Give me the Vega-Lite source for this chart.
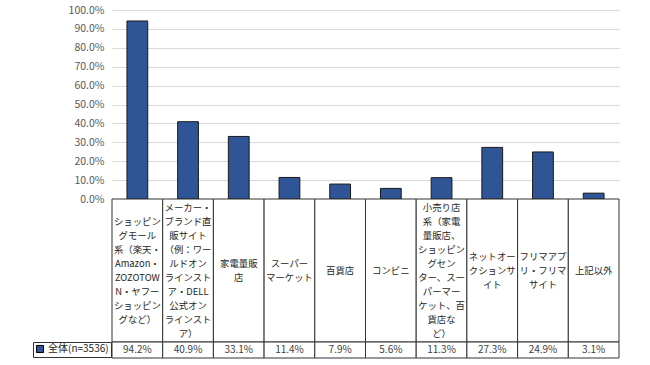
{
  "$schema": "https://vega.github.io/schema/vega-lite/v6.json",
  "padding": {"left": 32, "top": 5, "right": 5, "bottom": 5},
  "bounds": "flush",
  "spacing": 0,
  "resolve": {"legend": {"fill": "independent"}},
  "config": {
    "view": {"stroke": null},
    "font": "Noto Sans CJK JP",
    "axis": {"labelFont": "Noto Sans CJK JP"},
    "legend": {"labelFont": "Noto Sans CJK JP"}
  },
  "data": {
    "values": [
      {"label": "ショッピン\nグモール\n系（楽天・\nAmazon・\nZOZOTOW\nN・ヤフー\nショッピン\nグなど）", "value": 0.942, "series": "全体(n=3536)"},
      {"label": "メーカー・\nブランド直\n販サイト\n（例：ワー\nルドオン\nラインスト\nア・DELL\n公式オン\nラインスト\nア）", "value": 0.409, "series": "全体(n=3536)"},
      {"label": "家電量販\n店", "value": 0.331, "series": "全体(n=3536)"},
      {"label": "スーパー\nマーケット", "value": 0.114, "series": "全体(n=3536)"},
      {"label": "百貨店", "value": 0.079, "series": "全体(n=3536)"},
      {"label": "コンビニ", "value": 0.056, "series": "全体(n=3536)"},
      {"label": "小売り店\n系（家電\n量販店、\nショッピン\nグセン\nター、スー\nパーマー\nケット、百\n貨店な\nど）", "value": 0.113, "series": "全体(n=3536)"},
      {"label": "ネットオー\nクションサ\nイト", "value": 0.273, "series": "全体(n=3536)"},
      {"label": "フリマアプ\nリ・フリマ\nサイト", "value": 0.249, "series": "全体(n=3536)"},
      {"label": "上記以外", "value": 0.031, "series": "全体(n=3536)"}
    ]
  },
  "vconcat": [
    {
      "width": 507,
      "height": 189,
      "mark": {"type": "bar", "fill": "#2F5597", "stroke": "#1a1a1a", "strokeWidth": 1},
      "encoding": {
        "x": {"field": "label", "type": "nominal", "sort": null, "axis": null,
              "scale": {"paddingInner": 0.59, "paddingOuter": 0.295}},
        "y": {"field": "value", "type": "quantitative",
              "scale": {"domain": [0, 1]},
              "axis": {"format": ".1%", "values": [0, 0.1, 0.2, 0.3, 0.4, 0.5, 0.6, 0.7, 0.8, 0.9, 1],
                       "title": null, "domain": false, "ticks": false, "labelPadding": 8,
                       "gridColor": "#d9d9d9", "labelColor": "#595959", "labelFontSize": 10.5}}
      }
    },
    {
      "width": 507,
      "height": 143,
      "layer": [
        {
          "mark": {"type": "rect", "fill": "white", "stroke": "#333333", "strokeWidth": 1},
          "encoding": {
            "x": {"field": "label", "type": "nominal", "sort": null, "axis": null,
                  "scale": {"paddingInner": 0, "paddingOuter": 0}}
          }
        },
        {
          "mark": {"type": "text", "lineBreak": "\n", "lineHeight": 14, "fontSize": 9.4,
                   "baseline": "middle", "align": "center", "color": "#262626",
                   "dy": {"expr": "-7 * (length(split(datum.label, '\\n')) - 1)"}},
          "encoding": {
            "x": {"field": "label", "type": "nominal", "sort": null, "axis": null},
            "text": {"field": "label"}
          }
        }
      ]
    },
    {
      "width": 507,
      "height": 16,
      "layer": [
        {
          "mark": {"type": "rect", "fill": "white", "stroke": "#333333", "strokeWidth": 1},
          "encoding": {
            "x": {"field": "label", "type": "nominal", "sort": null, "axis": null,
                  "scale": {"paddingInner": 0, "paddingOuter": 0}}
          }
        },
        {
          "mark": {"type": "text", "fontSize": 10, "baseline": "middle", "align": "center", "color": "#404040"},
          "encoding": {
            "x": {"field": "label", "type": "nominal", "sort": null, "axis": null},
            "text": {"field": "value", "type": "quantitative", "format": ".1%"}
          }
        },
        {
          "mark": {"type": "point", "shape": "square", "filled": true, "opacity": 0},
          "encoding": {
            "x": {"field": "label", "type": "nominal", "sort": null, "axis": null},
            "fill": {"field": "series", "type": "nominal",
                     "scale": {"range": ["#2F5597"]},
                     "legend": {"orient": "left", "title": null, "offset": 1, "padding": 2,
                                "strokeColor": "#333333", "symbolType": "square", "symbolSize": 50,
                                "symbolStrokeColor": "#000000", "symbolStrokeWidth": 1, "symbolOpacity": 1,
                                "labelFontSize": 10, "labelOffset": 3, "labelColor": "#262626"}}
          }
        }
      ]
    }
  ]
}
